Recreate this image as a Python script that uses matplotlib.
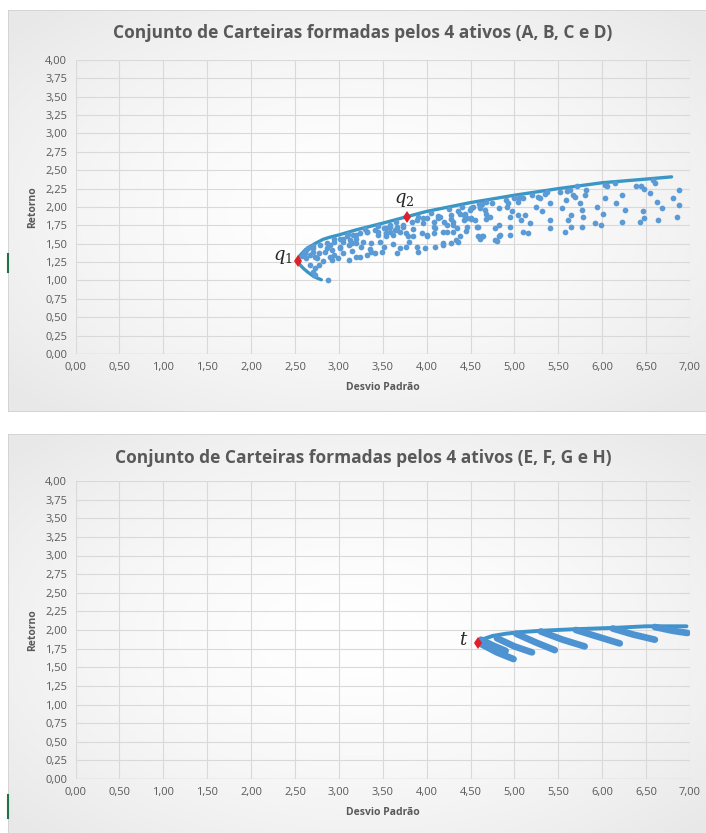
import numpy as np
import matplotlib
matplotlib.use("Agg")
import matplotlib.pyplot as plt
from matplotlib.patches import Rectangle
from matplotlib.lines import Line2D

plt.rcParams['font.family'] = ['Open Sans', 'DejaVu Sans']
plt.rcParams['mathtext.fontset'] = 'dejavuserif'

# ---- top chart: assets A, B, C, D ----
front_x = [2.53, 2.55, 2.58, 2.62, 2.67, 2.74, 2.82, 2.90, 3.00, 3.20, 3.50,
           3.78, 4.00, 4.50, 5.00, 5.50, 6.00, 6.50, 6.79]
front_y = [1.27, 1.33, 1.37, 1.42, 1.46, 1.51, 1.56, 1.59, 1.62, 1.69, 1.78,
           1.87, 1.94, 2.06, 2.16, 2.25, 2.33, 2.38, 2.41]
lower_x = [2.53, 2.56, 2.60, 2.65, 2.72, 2.80]
lower_y = [1.27, 1.21, 1.16, 1.11, 1.05, 1.01]

pts_x = [2.88, 2.73, 2.77, 2.82, 2.92, 2.99, 3.11, 3.20, 3.32, 3.41, 3.49, 3.66,
         3.70, 3.77, 3.90, 3.98, 4.09, 4.19, 4.28, 4.36, 4.08, 4.19, 4.00, 3.85,
         3.77, 3.54, 3.47, 3.37, 3.28, 3.20, 3.11, 3.01, 2.92, 2.84, 2.77, 2.67,
         2.63, 2.67, 2.71, 2.73,
         3.01, 3.09, 3.16, 3.24, 3.32, 3.41, 3.51, 3.58, 3.66, 3.73, 3.05, 3.13,
         3.20, 2.86, 2.78, 2.71, 2.63, 3.58, 3.64, 3.70, 3.54,
         3.89, 3.96, 4.00, 4.08, 4.15, 4.23, 4.28, 4.38, 4.46, 4.49, 4.30, 4.38,
         4.42, 4.13, 4.28, 4.30, 4.36, 4.44, 4.50, 4.53, 4.63, 4.67, 4.68, 4.61,
         4.82, 4.80,
         2.95, 3.05, 3.15, 3.25, 3.35, 2.58, 2.60, 2.65, 2.70, 2.75, 2.90, 2.95,
         3.45, 3.62, 3.85, 3.95, 3.80, 4.10, 4.20, 4.35, 4.45,
         2.61, 2.71, 2.73, 2.86, 2.90, 3.01, 3.05, 3.15, 3.20, 3.24, 3.32, 3.37,
         3.45, 3.51, 3.54, 3.58, 3.62, 3.66, 3.73, 3.79, 3.83, 3.89, 3.96, 4.00,
         4.08, 4.13, 4.19, 4.23, 4.30, 4.34, 4.42, 4.46, 4.55, 4.59, 4.61, 4.63,
         4.68,
         2.95, 3.10, 3.30, 3.45, 3.65, 3.90, 4.05, 4.25, 4.40, 4.60, 4.75, 4.90,
         5.05, 5.20, 5.35, 5.60,
         4.51, 4.51, 4.57, 4.61, 4.64, 4.59, 4.68, 4.72, 4.78, 4.78, 4.82, 4.83,
         4.82, 4.91, 4.93, 4.95, 4.95, 4.95, 4.97, 4.99, 5.04, 5.06, 5.10, 5.04,
         5.08, 5.12, 5.10, 5.16, 5.18, 5.25, 5.27, 5.31, 5.29, 5.37, 5.40, 5.40,
         5.40, 5.52, 5.54, 5.58, 5.59, 5.61, 5.63, 5.65, 5.65, 5.67, 5.69, 5.71,
         5.75, 5.77, 5.78, 5.77, 5.80, 5.82, 5.92, 5.94, 5.99, 6.01, 6.03, 6.03,
         6.05, 6.14, 6.16, 6.22, 6.22, 6.26, 6.39, 6.43, 6.44, 6.47, 6.48, 6.48,
         6.54, 6.58, 6.60, 6.62, 6.64, 6.68, 6.81, 6.85, 6.87, 6.88]
pts_y = [1.00, 1.17, 1.21, 1.26, 1.28, 1.30, 1.28, 1.32, 1.35, 1.38, 1.39, 1.38,
         1.44, 1.46, 1.39, 1.44, 1.46, 1.48, 1.51, 1.53, 1.64, 1.66, 1.60, 1.60,
         1.64, 1.60, 1.53, 1.51, 1.53, 1.51, 1.48, 1.44, 1.41, 1.39, 1.37, 1.35,
         1.30, 1.21, 1.12, 1.07,
         1.57, 1.60, 1.62, 1.64, 1.66, 1.69, 1.71, 1.73, 1.73, 1.76, 1.53, 1.55,
         1.56, 1.51, 1.48, 1.44, 1.41, 1.66, 1.69, 1.66, 1.64,
         1.82, 1.78, 1.85, 1.80, 1.87, 1.76, 1.89, 1.91, 1.85, 1.96, 1.66, 1.60,
         1.82, 1.88, 1.84, 1.75, 1.95, 1.91, 1.84, 2.00, 2.04, 1.96, 1.84, 1.56,
         1.61, 1.54,
         1.35, 1.38, 1.40, 1.45, 1.43, 1.33, 1.38, 1.44, 1.47, 1.30, 1.48, 1.52,
         1.62, 1.50, 1.70, 1.65, 1.53, 1.72, 1.80, 1.72, 1.68,
         1.37, 1.39, 1.32, 1.44, 1.32, 1.46, 1.57, 1.51, 1.62, 1.32, 1.66, 1.39,
         1.66, 1.46, 1.71, 1.75, 1.62, 1.69, 1.73, 1.60, 1.80, 1.46, 1.85, 1.62,
         1.73, 1.85, 1.51, 1.66, 1.80, 1.55, 1.89, 1.73, 1.82, 1.73, 1.98, 1.60,
         1.91,
         1.57, 1.63, 1.70, 1.74, 1.80, 1.87, 1.92, 1.97, 2.00, 2.04, 2.06, 2.10,
         2.12, 2.16, 2.18, 2.22,
         1.98, 1.85, 1.73, 2.00, 1.60, 1.60, 2.07, 1.87, 1.55, 1.71, 1.76, 1.62,
         1.98, 2.00, 2.05, 1.87, 1.73, 1.62, 1.94, 2.12, 2.07, 2.14, 2.12, 1.89,
         1.82, 1.89, 1.66, 1.64, 1.78, 2.00, 2.14, 1.94, 2.12, 2.21, 2.05, 1.82,
         1.71, 2.21, 1.98, 1.66, 2.10, 1.82, 2.23, 1.73, 1.89, 2.16, 2.13, 2.28,
         2.05, 1.96, 1.87, 1.73, 2.16, 2.23, 1.78, 2.00, 1.76, 1.91, 2.12, 2.30,
         2.28, 2.32, 2.05, 2.16, 1.80, 1.96, 2.28, 1.80, 2.28, 1.94, 2.25, 1.85,
         2.19, 2.37, 2.33, 2.07, 1.82, 1.98, 2.12, 1.87, 2.23, 2.03]

q_points_x = [2.53, 3.78]
q_points_y = [1.27, 1.87]

# ---- bottom chart: assets E, F, G, H ----
front2_x = [4.59, 4.65, 4.75, 4.90, 5.05, 5.30, 5.67, 6.16, 6.50, 6.81, 6.96]
front2_y = [1.83, 1.88, 1.92, 1.95, 1.97, 1.99, 2.01, 2.03, 2.05, 2.05, 2.05]
fingers_x = [[4.59, 4.80, 4.99], [4.62, 4.76, 4.90], [4.80, 5.00, 5.20],
             [5.02, 5.25, 5.46], [5.30, 5.55, 5.80], [5.70, 5.95, 6.20],
             [6.12, 6.35, 6.60], [6.60, 6.80, 6.97]]
fingers_y = [[1.83, 1.70, 1.61], [1.87, 1.79, 1.72], [1.89, 1.78, 1.70],
             [1.95, 1.83, 1.73], [1.98, 1.87, 1.78], [2.00, 1.91, 1.82],
             [2.02, 1.94, 1.87], [2.04, 1.99, 1.96]]
t_x = [4.59]
t_y = [1.83]

x_ticks = np.arange(0, 7.01, 0.5)
y_ticks = np.arange(0, 4.01, 0.25)

W, H = 706, 833
fig = plt.figure(figsize=(W / 100, H / 100), dpi=100)
fig.patch.set_facecolor('white')

TXT = '#595959'
GRID = '#d9d9d9'


def chart_background(rect):
    bg = fig.add_axes(rect, zorder=0)
    yy, xx = np.mgrid[-1:1:200j, -1:1:200j]
    r = np.clip(np.sqrt(xx ** 2 + yy ** 2) / 1.35, 0, 1)
    v = 1.0 - 0.09 * r ** 1.6
    bg.imshow(np.dstack([v, v, v]), extent=[0, 1, 0, 1], aspect='auto')
    bg.add_patch(Rectangle((0, 0), 1, 1, fill=False, ec='#d0d0d0', lw=1.2,
                           transform=bg.transAxes))
    bg.set_xlim(0, 1)
    bg.set_ylim(0, 1)
    bg.axis('off')


def chart_axes(rect, title, title_y):
    ax = fig.add_axes(rect, zorder=1)
    ax.set_facecolor('none')
    ax.set_xlim(0, 7)
    ax.set_ylim(0, 4)
    ax.set_xticks(x_ticks)
    ax.set_yticks(y_ticks)
    ax.set_xticklabels([f'{v:.2f}'.replace('.', ',') for v in x_ticks])
    ax.set_yticklabels([f'{v:.2f}'.replace('.', ',') for v in y_ticks])
    ax.tick_params(length=0, labelsize=8, colors=TXT, pad=6)
    ax.grid(True, color=GRID, lw=0.8)
    ax.set_axisbelow(True)
    for s in ax.spines.values():
        s.set_visible(False)
    ax.axhline(0, color=GRID, lw=1.0, zorder=1)
    ax.set_xlabel('Desvio Padrão', fontsize=7.5, fontweight='bold', color=TXT, labelpad=6)
    ax.set_ylabel('Retorno', fontsize=7.5, fontweight='bold', color=TXT, labelpad=5)
    fig.text(363 / W, title_y, title, ha='center', va='center',
             fontsize=12.5, fontweight='bold', color=TXT)
    return ax


# top chart
chart_background([0.0113, 1 - 412 / H, 1.0, 402 / H])
ax1 = chart_axes([75.5 / W, 1 - 354 / H, 614.5 / W, 294 / H],
                 'Conjunto de Carteiras formadas pelos 4 ativos (A, B, C e D)',
                 1 - 33 / H)
ax1.plot(front_x, front_y, color='#3a96c4', lw=2.4, solid_capstyle='round', zorder=3)
ax1.plot(lower_x, lower_y, color='#3a96c4', lw=2.4, solid_capstyle='round', zorder=3)
ax1.scatter(pts_x, pts_y, s=17, color='#5b9bd5', lw=0, zorder=4)
ax1.plot(q_points_x, q_points_y, 'd', color='#e0202a', ms=6, mew=0, zorder=5)
ax1.text(2.47, 1.32, '$q_1$', fontsize=13, ha='right', va='center', color='#262626')
ax1.text(3.75, 2.10, '$q_2$', fontsize=13, ha='center', va='center', color='#262626')

# bottom chart
chart_background([0.0113, -0.01, 1.0, 1 - 434 / H + 0.01])
ax2 = chart_axes([75.5 / W, 1 - 779 / H, 614.5 / W, 298 / H],
                 'Conjunto de Carteiras formadas pelos 4 ativos (E, F, G e H)',
                 1 - 458 / H)
ax2.plot(front2_x, front2_y, color='#3f93cc', lw=2.8, solid_capstyle='round', zorder=3)
for fx, fy in zip(fingers_x, fingers_y):
    ax2.plot(fx, fy, color='#4d93d2', lw=4.8, solid_capstyle='round', zorder=3)
ax2.plot(t_x, t_y, 'd', color='#e0202a', ms=6, mew=0, zorder=5)
ax2.text(4.42, 1.86, '$t$', fontsize=13, ha='center', va='center', color='#262626')

# excel cell-selection marks on the left edge
fig.add_artist(Line2D([8 / W, 8 / W], [1 - 272 / H, 1 - 254 / H], color='#217346', lw=1.5))
fig.add_artist(Line2D([8 / W, 8 / W], [1 - 818 / H, 1 - 795 / H], color='#217346', lw=1.5))

fig.savefig('out.png', dpi=100)
